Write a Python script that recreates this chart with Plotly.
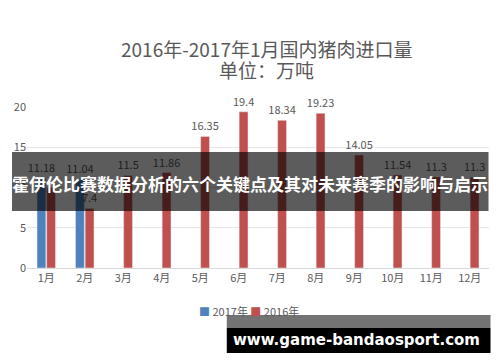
import plotly.graph_objects as go

months = ["1月", "2月", "3月", "4月", "5月", "6月", "7月", "8月", "9月", "10月", "11月", "12月"]
v2017 = [11.18, 11.04, None, None, None, None, None, None, None, None, None, None]
v2016 = [10.0, 7.4, 11.5, 11.86, 16.35, 19.4, 18.34, 19.23, 14.05, 11.54, 11.3, 11.3]
lbl2017 = ["11.18", "11.04", "", "", "", "", "", "", "", "", "", ""]
lbl2016 = ["", "7.4", "11.5", "11.86", "16.35", "19.4", "18.34", "19.23", "14.05", "11.54", "11.3", "11.3"]
yticks = [0, 5, 10, 15, 20]

title1 = "2016年-2017年1月国内猪肉进口量"
title2 = "单位：万吨"
banner = "霍伊伦比赛数据分析的六个关键点及其对未来赛季的影响与启示"
watermark = "www.game-bandaosport.com"

CJK = "Noto Sans CJK SC, Microsoft YaHei, sans-serif"
GRAY = "#595959"
BLUE = "#4F81BD"
RED = "#C0504D"

# page has an 8px body margin; work in screenshot pixels and convert
OFF = 8.0
L, R, T, B = 27.0, 489.5, 107.0, 268.0   # plot area in screenshot pixels
def px(x):
    return (x - L) / (R - L)
def py(y):
    return (B - y) / (B - T)

fig = go.Figure()
fig.add_trace(go.Bar(name="2017年", x=months, y=v2017, marker_color=BLUE,
                     text=lbl2017, textposition="outside", cliponaxis=False,
                     textfont=dict(size=11, color=GRAY, family=CJK)))
fig.add_trace(go.Bar(name="2016年", x=months, y=v2016, marker_color=RED,
                     text=lbl2016, textposition="outside", cliponaxis=False,
                     textfont=dict(size=11, color=GRAY, family=CJK)))

fig.update_layout(
    width=500, height=362,
    margin=dict(l=L - OFF, r=500 - (R - OFF), t=T - OFF, b=362 - (B - OFF), autoexpand=False),
    paper_bgcolor="white", plot_bgcolor="white",
    barmode="group", bargap=0.5, bargroupgap=0.08,
    font=dict(family=CJK, color=GRAY),
    showlegend=False,
    xaxis=dict(showline=True, linecolor="#D9D9D9", ticks="", tickfont=dict(size=11, color=GRAY),
               showgrid=False, automargin=False),
    yaxis=dict(range=[0, 20], tickvals=yticks, showgrid=True, gridcolor="#E6E6E6",
               zeroline=False, showline=False, ticks="", tickfont=dict(size=11, color=GRAY),
               automargin=False),
    uniformtext=dict(minsize=11, mode="show"),
)

shapes = [
    dict(type="rect", xref="paper", yref="paper", x0=px(12), x1=px(489), y0=py(152), y1=py(211),
         fillcolor="rgba(0,0,0,0.64)", line=dict(width=0), layer="above"),
    dict(type="rect", xref="paper", yref="paper", x0=px(227), x1=px(491), y0=py(315), y1=py(328),
         fillcolor="rgba(0,0,0,0.55)", line=dict(width=0), layer="above"),
    dict(type="rect", xref="paper", yref="paper", x0=px(227), x1=px(491), y0=py(328), y1=py(353),
         fillcolor="black", line=dict(width=0), layer="above"),
]
fig.update_layout(shapes=shapes)

fig.add_annotation(text=title1, xref="paper", yref="paper", x=px(267), y=py(48),
                   showarrow=False, xanchor="center", yanchor="middle",
                   font=dict(size=19, color=GRAY, family=CJK))
fig.add_annotation(text=title2, xref="paper", yref="paper", x=px(267), y=py(70),
                   showarrow=False, xanchor="center", yanchor="middle",
                   font=dict(size=19, color=GRAY, family=CJK))
fig.add_annotation(text=("<span style='color:%s'>■</span> 2017年 "
                         "<span style='color:%s'>■</span> 2016年") % (BLUE, RED),
                   xref="paper", yref="paper", x=px(249), y=py(311),
                   showarrow=False, xanchor="center", yanchor="middle",
                   font=dict(size=11, color=GRAY, family=CJK))
fig.add_annotation(text="<b>" + banner + "</b>", xref="paper", yref="paper", x=px(250), y=py(183),
                   showarrow=False, xanchor="center", yanchor="middle",
                   font=dict(size=17, color="white", family=CJK))
fig.add_annotation(text="<b>" + watermark + "</b>", xref="paper", yref="paper", x=px(357), y=py(340),
                   showarrow=False, xanchor="center", yanchor="middle",
                   font=dict(size=15, color="white", family="DejaVu Sans, sans-serif"))

fig.write_html("out.html")
